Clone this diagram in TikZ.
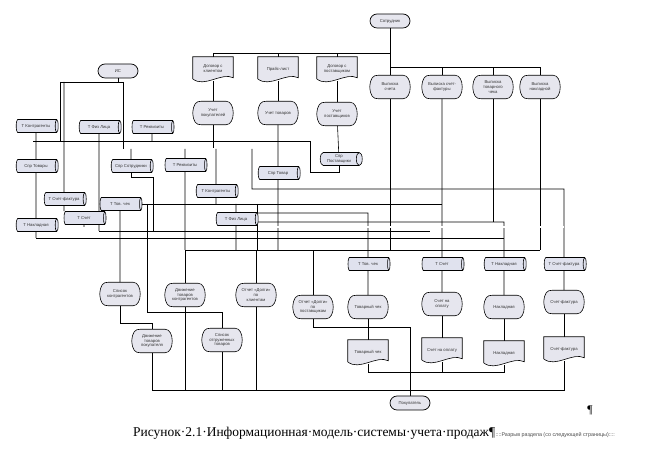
\documentclass[tikz,border=0pt]{standalone}
\usepackage{fontspec}
\setmainfont{Liberation Sans}
\newfontfamily\capfont{Liberation Serif}
\usetikzlibrary{shapes.geometric}
\pgfdeclarelayer{wires}
\pgfdeclarelayer{shapes}
\pgfsetlayers{wires,shapes,main}
\definecolor{boxfill}{RGB}{230,230,238}
\definecolor{tblfill}{RGB}{224,226,238}
\tikzset{
  lbl/.style={font=\fontsize{3.6}{4.2}\selectfont, align=center, inner sep=0.5pt, text=black!80},
  term/.style={lbl, draw, fill=boxfill, rounded corners=6pt, minimum width=1.2cm, minimum height=0.42cm, line width=0.6pt},
  tbl/.style={lbl, cylinder, draw, fill=tblfill, shape aspect=0.6, minimum width=0.39cm, minimum height=1.26cm, line width=0.5pt},
  disp/.style={lbl, minimum width=1.2cm, minimum height=0.69cm},
  doc/.style={lbl, minimum width=1.2cm, minimum height=0.72cm},
  shp/.style={draw, fill=boxfill, line width=0.5pt},
  bus/.style={double, double distance=1.1pt, line width=0.45pt}
}
% display shape round a named node
\newcommand{\dispshape}[1]{%
  \begin{pgfonlayer}{shapes}
  \draw[shp] (#1.west) .. controls ([xshift=0.5pt,yshift=-2pt]#1.north west) and ([xshift=3pt]#1.north west) .. ([xshift=7pt]#1.north west)
    -- ([xshift=-6pt]#1.north east) .. controls ([xshift=2pt]#1.north east) and ([xshift=2pt]#1.south east) .. ([xshift=-6pt]#1.south east)
    -- ([xshift=7pt]#1.south west) .. controls ([xshift=3pt]#1.south west) and ([xshift=0.5pt,yshift=2pt]#1.south west) .. (#1.west) -- cycle;
  \end{pgfonlayer}}
% document shape round a named node
\newcommand{\docshape}[1]{%
  \begin{pgfonlayer}{shapes}
  \draw[shp] ([yshift=2pt]#1.south west) -- (#1.north west) -- (#1.north east) -- ([yshift=3pt]#1.south east)
    .. controls ([xshift=-10pt,yshift=8pt]#1.south east) and ([xshift=10pt,yshift=-6pt]#1.south west) .. ([yshift=2pt]#1.south west) -- cycle;
  \end{pgfonlayer}}

\begin{document}
\begin{tikzpicture}[x=0.03cm, y=-0.03cm]
\useasboundingbox (0,0) rectangle (668,460);

% terminals
\node[term] (is) at (118,71) {ИС};
\node[term] (sotr) at (390,21) {Сотрудник};
\node[term] (pok) at (410,403) {Покупатель};

% documents
\node[doc] (dkl) at (213,69) {Договор с\\клиентом};
\node[doc] (prais) at (278,69) {Прайс-лист};
\node[doc] (dpost) at (337,69) {Договор с\\поставщиком};
\node[doc] (dtch) at (368,352) {Товарный чек};
\node[doc] (dsch) at (442,350) {Счет на оплату};
\node[doc] (dnak) at (504,353) {Накладная};
\node[doc] (dsf) at (564,349) {Счет-фактура};
\foreach \d in {dkl,prais,dpost,dtch,dsch,dnak,dsf} {\docshape{\d}}

% displays
\node[disp] (ukl) at (213,113) {Учет\\покупателей};
\node[disp] (utov) at (278,113) {Учет товаров};
\node[disp] (upost) at (337,114) {Учет\\поставщиков};
\node[disp] (vsch) at (390,87) {Выписка\\счета};
\node[disp] (vsf) at (442,87) {Выписка счет-\\фактуры};
\node[disp] (vtch) at (493,87) {Выписка\\товарного\\чека};
\node[disp] (vnak) at (540,87) {Выписка\\накладной};
\node[disp] (spk) at (120,294) {Список\\контрагентов};
\node[disp] (dvk) at (185,295) {Движение\\товаров\\контрагентов};
\node[disp] (otch1) at (256,295) {Отчет «Долги»\\по\\клиентам};
\node[disp] (otch2) at (313,307) {Отчет «Долги»\\по\\поставщикам};
\node[disp] (dvp) at (152,341) {Движение\\товаров\\покупателя};
\node[disp] (spotgr) at (222,340) {Список\\отгруженных\\товаров};
\node[disp] (rtch) at (368,307) {Товарный чек};
\node[disp] (rsch) at (442,304) {Счет на\\оплату};
\node[disp] (rnak) at (504,307) {Накладная};
\node[disp] (rsf) at (564,302) {Счет-фактура};
\foreach \d in {ukl,utov,upost,vsch,vsf,vtch,vnak,spk,dvk,otch1,otch2,dvp,spotgr,rtch,rsch,rnak,rsf} {\dispshape{\d}}

% tables
\node[tbl] (tkontr) at (36,126) {Т Контрагенты};
\node[tbl] (tfl) at (99,127) {Т Физ Лица};
\node[tbl] (treq) at (152,127) {Т Реквизиты};
\node[tbl] (sprtovary) at (36,166) {Спр Товары};
\node[tbl] (sprsotr) at (131,166) {Спр Сотрудники};
\node[tbl] (treq2) at (185,165) {Т Реквизиты};
\node[tbl] (tkontr2) at (216,191) {Т Контрагенты};
\node[tbl] (tsf) at (64,199) {Т Счет-фактура};
\node[tbl] (ttch) at (120,204) {Т Тов. чек};
\node[tbl] (tsch) at (84,218) {Т Счет};
\node[tbl] (tnakl) at (36,225) {Т Накладная};
\node[tbl] (tfl2) at (236,219) {Т Физ Лица};
\node[tbl] (sprtov) at (278,173) {Спр Товар};
\node[tbl] (sprpost) at (339,159) {Спр\\Поставщики};
\node[tbl] (ttch2) at (368,264) {Т Тов. чек};
\node[tbl] (tsch2) at (442,264) {Т Счет};
\node[tbl] (tnak2) at (504,264) {Т Накладная};
\node[tbl] (tsf2) at (564,264) {Т Счет-фактура};

% bus ends
\coordinate (b53) at (390,53);
\coordinate (b67) at (390,67);
\coordinate (isw) at (60,82);
\coordinate (ise) at (123,82);
\coordinate (b141w) at (33,141);
\coordinate (b141e) at (310,141);
\coordinate (c172) at (310,172);
\coordinate (b149w) at (33,149);
\coordinate (b149e) at (252,149);
\coordinate (b189w) at (252,189);
\coordinate (b189e) at (564,189);
\coordinate (c177) at (153,177);
\coordinate (b213w) at (257,213);
\coordinate (b213e) at (368,213);
\coordinate (b222w) at (230,222);
\coordinate (b222e) at (504,222);
\coordinate (b227w) at (84,227);
\coordinate (b227e) at (564,227);
\coordinate (b231w) at (99,231);
\coordinate (b231e) at (430,231);
\coordinate (b238w) at (36,238);
\coordinate (b238e) at (504,238);
\coordinate (b250w) at (185,250);
\coordinate (b250e) at (540,250);
\coordinate (b312w) at (147,312);
\coordinate (b312e) at (222,312);
\coordinate (c323) at (152,323);
\coordinate (b327e) at (410,327);
\coordinate (b372w) at (368,372);
\coordinate (b372e) at (504,372);
\coordinate (b390w) at (152,390);
\coordinate (b390e) at (564,390);

\begin{pgfonlayer}{wires}
\begin{scope}[line width=0.5pt]
% top
\draw (sotr) -- (vsch); \draw (vsch) -- (vsch |- b250w);
\draw (dkl.north) |- (b53); \draw (prais.north) -- (prais.north |- b53); \draw (dpost.north) -- (dpost.north |- b53);
\draw (b67) -| (vnak.north); \draw (vsf.north) -- (vsf.north |- b67); \draw (vtch.north) -- (vtch.north |- b67);
\draw (dkl) -- (ukl); \draw (prais) -- (utov); \draw (dpost) -- (upost);
\draw (ukl) -- (ukl |- b149w);
\draw (utov) -- (sprtov); \draw (upost) -- (sprpost);
\draw (sprpost.south) |- (c172) -- (b141e);
\draw (sprtov) -- (sprtov |- b250w);
\draw (vsf) -- (tsch2);
\draw (vtch) -- (vtch |- b222e);
\draw (vnak) -- (b250e);
% buses
\draw (b141w) -- (b141e);
\draw[bus] (b149w) -- (b149e);
\draw (b149e) -- (b189w) -- (b189e) -- (tsf2);
\draw (ttch.east) -- (ttch.east -| vsf);
\draw (b213w) -- (b213e) -- (ttch2);
\draw (b222w) -- (b222e) -- (tnak2);
\draw[bus] (b227w) -- (b227e);
\draw (b231w) -- (b231e);
\draw (b238w) -- (b238e);
\draw (b250w) -- (b250e);
\draw (b213w |- ttch.east) -- (b213w |- b250w);
% left group
\draw (is) -- (is |- isw); \draw (isw) -- (ise);
\draw (isw) -- (isw |- b141w);
\draw (tsf) -- (tsf |- isw);
\draw (ise) -- (ise |- b149w);
\draw (tkontr) -- (sprtovary); \draw (sprtovary) -- (tnakl); \draw (tnakl) -- (b238w);
\draw (treq) -- (treq |- b141w);
\draw (tfl) -- (b231w);
\draw (sprsotr) -- (sprsotr |- b149w);
\draw (sprsotr.south) |- (c177) -- (c177 |- b231w);
\draw (treq2) -- (treq2 |- b149w); \draw (treq2) -- (b250w);
\draw (tkontr2) -- (tkontr2 |- b149w); \draw (tkontr2) -- (tkontr2 |- ttch.east);
\draw (tfl2) -- (tfl2 |- ttch.east); \draw (tfl2) -- (tfl2 |- b250w);
\draw (tsf) -- (tsf |- tsch.north);
\draw (tsch) -- (b227w);
\draw (ttch) -- (spk);
\draw (b312w |- ttch.east) -- (b312w) -- (b312e) -- (spotgr);
% lower group
\draw (spk.south) |- (c323) -- (dvp);
\draw (b250w) -- (dvk); \draw (dvk) -- (dvk |- b390w);
\draw (dvp) -- (b390w);
\draw (spotgr) -- (spotgr |- b390w);
\draw (otch1) -- (otch1 |- b250w); \draw (otch1) -- (otch1 |- b390w);
\draw (otch2) -- (otch2 |- b250w); \draw (otch2.south) |- (b327e) -- (pok);
\draw (b390w) -- (b390e) -- (dsf);
\draw (ttch2) -- (rtch); \draw (rtch) -- (dtch);
\draw (tsch2) -- (rsch); \draw (rsch) -- (dsch);
\draw (tnak2) -- (rnak); \draw (rnak) -- (dnak);
\draw (tsf2) -- (rsf); \draw (rsf) -- (dsf);
\draw (dtch) -- (b372w) -- (b372e) -- (dnak); \draw (dsch) -- (dsch |- b372w);
\end{scope}
\end{pgfonlayer}

% caption
\node[anchor=base west, inner sep=0, font=\capfont\fontsize{11.5}{13}\selectfont] (cap) at (133,437) {Рисунок·2.1·Информационная·модель·системы·учета·продаж¶};
\node[anchor=base west, inner sep=0, font=\fontsize{4.6}{5}\selectfont, text=black!70] (brk) at (cap.base east) {::::Разрыв раздела (со следующей страницы)::::};
\node[font=\capfont\fontsize{10}{12}\selectfont] (pil) at (590,410) {¶};
\end{tikzpicture}
\end{document}
